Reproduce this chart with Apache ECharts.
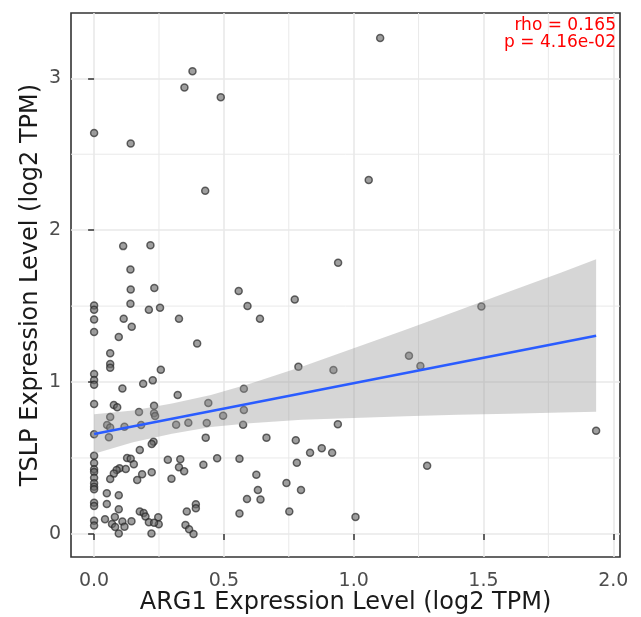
<!DOCTYPE html>
<html><head><meta charset="utf-8">
<script src="https://cdn.jsdelivr.net/npm/echarts@6/dist/echarts.min.js"></script>
<style>html,body{margin:0;padding:0;background:#fff}#c{width:641px;height:617px}</style>
</head><body><div id="c"></div>
<script>
// ---- data ----
const argX = [
 0.379,0.348,0.488,0,0.141,0.428,1.102,1.058,0.112,0.217,
 0.140,0.141,0.232,0,0,0.140,0.211,0.254,0,0.114,
 0.327,0.145,0,0.095,0.397,0.062,0.062,0.062,0.257,0,
 0,0,0.109,0.189,0.226,0.322,0.557,0.591,0.639,0.577,
 0.94,0.773,0.787,0.922,1.213,1.257,1.492,1.934,0,0.076,
 0.089,0.173,0.231,0.231,0.235,0.062,0.050,0.062,0.117,0.181,
 0,0.057,0.316,0.363,0.434,0.440,0.497,0.577,0.574,0.430,
 0.664,0.229,0.222,0.176,0,0,0,0,0,0,
 0,0,0,0,0,0,0.127,0.141,0.153,0.098,
 0.087,0.076,0.062,0.122,0.185,0.166,0.222,0.284,0.332,0.327,
 0.347,0.298,0.421,0.474,0.560,0.625,0.631,0.641,0.589,0.560,
 0.049,0.095,0.049,0.042,0.095,0.080,0.069,0.081,0.095,0.109,
 0.117,0.144,0.176,0.191,0.198,0.211,0.221,0.247,0.249,0.231,
 0.357,0.392,0.392,0.352,0.366,0.383,0.939,0.777,0.832,0.877,
 0.917,0.781,0.741,0.797,0.752,1.007,1.283
];
const tslpY = [
 3.046,2.94,2.875,2.64,2.57,2.26,3.265,2.33,1.895,1.90,
 1.741,1.61,1.62,1.504,1.476,1.515,1.476,1.489,1.412,1.417,
 1.417,1.364,1.329,1.296,1.254,1.189,1.118,1.094,1.081,1.053,
 1.013,0.982,0.958,0.989,1.011,0.914,1.60,1.50,1.417,0.956,
 1.785,1.544,1.101,1.079,1.173,1.105,1.498,0.68,0.855,0.849,
 0.834,0.803,0.844,0.794,0.776,0.77,0.717,0.70,0.706,0.717,
 0.656,0.636,0.719,0.732,0.730,0.862,0.778,0.816,0.719,0.634,
 0.634,0.607,0.592,0.553,0.515,0.467,0.426,0.408,0.37,0.333,
 0.311,0.294,0.206,0.184,0.086,0.055,0.50,0.495,0.458,0.432,
 0.421,0.397,0.362,0.428,0.393,0.355,0.406,0.489,0.491,0.439,
 0.412,0.364,0.456,0.498,0.495,0.39,0.289,0.226,0.23,0.134,
 0.268,0.254,0.197,0.097,0.162,0.112,0.066,0.046,0.002,0.081,
 0.048,0.084,0.147,0.138,0.114,0.077,0.002,0.110,0.064,0.074,
 0.147,0.195,0.169,0.059,0.031,0.0,0.722,0.616,0.535,0.564,
 0.535,0.469,0.336,0.289,0.147,0.112,0.449
];
const fitX = [0, 1.934];
const fitY = [0.658, 1.305];
const bandX     = [0,     0.15,  0.3,   0.45,  0.6,   0.8,   1.0,   1.2,   1.4,   1.6,   1.8,   1.934];
const bandUpper = [0.788, 0.813, 0.859, 0.914, 0.989, 1.100, 1.222, 1.345, 1.470, 1.596, 1.722, 1.808];
const bandLower = [0.528, 0.603, 0.659, 0.704, 0.729, 0.752, 0.764, 0.775, 0.784, 0.792, 0.800, 0.804];
const xTicks = [0, 0.5, 1, 1.5, 2];
const yTicks = [0, 1, 2, 3];
const xMinor = [0.25, 0.75, 1.25, 1.75];
const yMinor = [0.5, 1.5, 2.5];
const annotation = ['rho = 0.165', 'p = 4.16e-02'];
const xTitle = 'ARG1 Expression Level (log2 TPM)';
const yTitle = 'TSLP Expression Level (log2 TPM)';

// ---- chart ----
const XMIN = -0.089, XMAX = 2.026, YMIN = -0.152, YMAX = 3.43;
const FONT = 'DejaVu Sans';
const chart = echarts.init(document.getElementById('c'), null, {renderer: 'canvas'});
const gridColor = '#e9e9e9';
chart.setOption({
  animation: false,
  backgroundColor: '#ffffff',
  grid: {left: 71, right: 21, top: 13, bottom: 60, show: true, containLabel: false, outerBoundsMode: 'none',
         borderColor: '#333333', borderWidth: 1.6, backgroundColor: 'transparent'},
  xAxis: {
    type: 'value', min: XMIN, max: XMAX, splitNumber: 5,
    name: xTitle, nameLocation: 'middle', nameGap: 34, nameMoveOverlap: false,
    nameTextStyle: {fontFamily: FONT, fontSize: 24, color: '#1a1a1a'},
    axisLine: {show: false},
    axisTick: {show: true, length: 6, customValues: xTicks, lineStyle: {color: '#333333', width: 1.5}},
    axisLabel: {customValues: xTicks, margin: 15, fontFamily: FONT, fontSize: 19, color: '#4d4d4d', formatter: v => v.toFixed(1)},
    splitLine: {show: true, lineStyle: {color: gridColor, width: 1.6}}
  },
  yAxis: {
    type: 'value', min: YMIN, max: YMAX, splitNumber: 4,
    name: yTitle, nameLocation: 'middle', nameGap: 28, nameMoveOverlap: false,
    nameTextStyle: {fontFamily: FONT, fontSize: 24, color: '#1a1a1a'},
    axisLine: {show: false},
    axisTick: {show: true, length: 6, customValues: yTicks, lineStyle: {color: '#333333', width: 1.5}},
    axisLabel: {customValues: yTicks, margin: 10, fontFamily: FONT, fontSize: 19, color: '#4d4d4d', formatter: v => String(v)},
    splitLine: {show: true, lineStyle: {color: gridColor, width: 1.6}}
  },
  graphic: [
    {type: 'text', x: 616, y: 17, z: 100, silent: true,
     style: {text: annotation[0], fill: '#ff0000', font: '17px ' + FONT, align: 'right', verticalAlign: 'top'}},
    {type: 'text', x: 616, y: 34, z: 100, silent: true,
     style: {text: annotation[1], fill: '#ff0000', font: '17px ' + FONT, align: 'right', verticalAlign: 'top'}}
  ],
  series: [
    {
      type: 'custom', z: 1, silent: true, clip: true,
      data: [[0, 0]],
      renderItem: (params, api) => {
        const children = [];
        xMinor.forEach(v => {
          const a = api.coord([v, YMIN]), b = api.coord([v, YMAX]);
          children.push({type: 'line', shape: {x1: a[0], y1: a[1], x2: b[0], y2: b[1]}, style: {stroke: gridColor, lineWidth: 1}});
        });
        yMinor.forEach(v => {
          const a = api.coord([XMIN, v]), b = api.coord([XMAX, v]);
          children.push({type: 'line', shape: {x1: a[0], y1: a[1], x2: b[0], y2: b[1]}, style: {stroke: gridColor, lineWidth: 1}});
        });
        return {type: 'group', children};
      }
    },
    {
      type: 'scatter', z: 3, symbol: 'circle', symbolSize: 7,
      data: argX.map((x, i) => [x, tslpY[i]]),
      itemStyle: {color: 'rgba(105,105,105,0.8)', borderColor: 'rgba(35,35,35,0.85)', borderWidth: 1.5}
    },
    {
      type: 'custom', z: 4, silent: true, clip: true,
      data: [[0, 0]],
      renderItem: (params, api) => {
        const pts = [];
        for (let i = 0; i < bandX.length; i++) pts.push(api.coord([bandX[i], bandUpper[i]]));
        for (let i = bandX.length - 1; i >= 0; i--) pts.push(api.coord([bandX[i], bandLower[i]]));
        return {type: 'polygon', shape: {points: pts}, style: {fill: 'rgba(153,153,153,0.4)'}};
      }
    },
    {
      type: 'line', z: 5, symbol: 'none', silent: true,
      data: fitX.map((x, i) => [x, fitY[i]]),
      lineStyle: {color: '#2a5cff', width: 2.6}
    }
  ]
});
</script></body></html>
